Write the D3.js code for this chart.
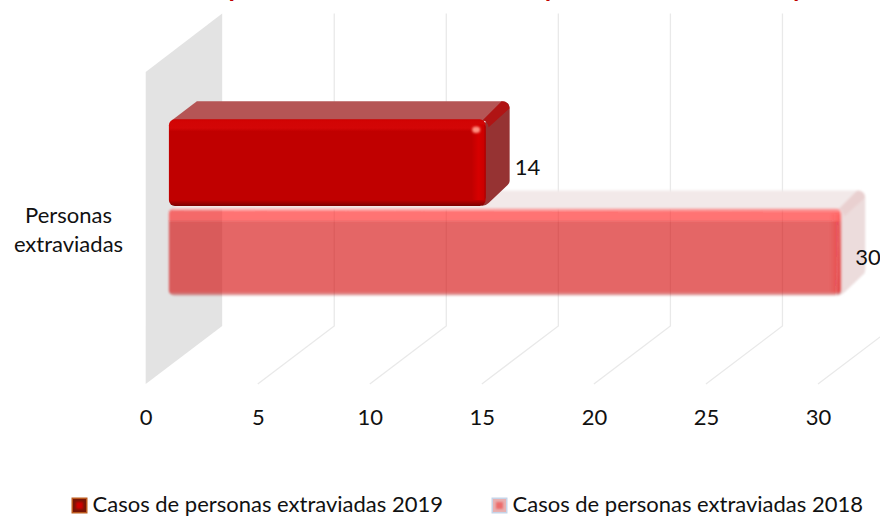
<!DOCTYPE html>
<html><head><meta charset="utf-8">
<script src="https://cdn.jsdelivr.net/npm/d3@7/dist/d3.min.js"></script>
<style>html,body{margin:0;padding:0;background:#fff;overflow:hidden}svg{display:block}text{font-family:Lato,Carlito,sans-serif;fill:#111}</style>
</head><body><div id="c"></div>
<script>
const titleText = "Casos de personas extraviadas 2018 y 2019 de enero a mayo";
const categories = ["Personas", "extraviadas"];
const seriesNames = ["Casos de personas extraviadas 2019", "Casos de personas extraviadas 2018"];
const seriesValues = [14, 30];
const tickValues = [0, 5, 10, 15, 20, 25, 30];

const W = 880, H = 516, FS = 22;
const svg = d3.select("#c").append("svg").attr("width", W).attr("height", H);
const defs = svg.append("defs");
function lin(id, vertical, stops){
  const g = defs.append("linearGradient").attr("id", id)
    .attr("x1",0).attr("y1",0).attr("x2",vertical?0:1).attr("y2",vertical?1:0);
  stops.forEach(s=>g.append("stop").attr("offset",s[0]).attr("stop-color",s[1]).attr("stop-opacity",s[2]===undefined?1:s[2]));
}
lin("face19", true, [[0,"#cc0000"],[.02,"#d20404"],[.10,"#d30606"],[.14,"#c00000"],[.93,"#c00000"],[.97,"#980000"],[1,"#7a0000"]]);
lin("edge19", false, [[0,"#d80000",0],[.5,"#d60000",1],[.85,"#cc0000",1],[1,"#a80000",1]]);
lin("face18", true, [[0,"#ff2a2a",.35],[.03,"#ff2020",.62],[.13,"#ff2020",.62],[.16,"#d20002",.6],[.96,"#d20002",.6],[1,"#a00000",.3]]);
lin("edge18", false, [[0,"#ff2020",0],[.6,"#ff2020",.18],[1,"#ff2020",.25]]);
const blur = defs.append("filter").attr("id","soft").attr("x","-2%").attr("y","-5%").attr("width","104%").attr("height","110%");
blur.append("feGaussianBlur").attr("stdDeviation",0.8);
const glow = defs.append("filter").attr("id","glow").attr("x","-50%").attr("y","-50%").attr("width","200%").attr("height","200%");
glow.append("feGaussianBlur").attr("stdDeviation",1);

// 3D projection: front floor edge and back wall offset
const x = d3.scaleLinear().domain([0,30]).range([145.7,818]);
const wallDX = 76.5, wallDY = 58, floorY = 384, ceilY = 72;
const barInset = 23.2, barDX = 24, barDY = 18;
const y = d3.scaleBand().domain(seriesNames).range([119,296]);
const barBevel = [3, 0];

// grid lines
const grid = svg.append("g").attr("fill","none").attr("stroke","#e9e9e9").attr("stroke-width",1.3);
grid.selectAll("path").data(tickValues.slice(1)).join("path")
  .attr("d", d=>`M${x(d)},${floorY}L${x(d)+wallDX},${floorY-wallDY}L${x(d)+wallDX},${ceilY-wallDY-0.5}`);
// wall
svg.append("path").attr("fill","#e3e3e3")
  .attr("d",`M${x(0)},${ceilY}L${x(0)+wallDX},${ceilY-wallDY-0.5}L${x(0)+wallDX},${floorY-wallDY}L${x(0)},${floorY}Z`);

function bar(i){
  const v = seriesValues[i], name = seriesNames[i];
  const x0 = x(0)+barInset, x1 = x(v)+barInset+barBevel[i];
  const y0 = y(name)+(i?1:0.3), y1 = y(name)+y.bandwidth()-(i?0.5:1.5);
  const is19 = i===0;
  const g = svg.append("g").attr("filter", is19?null:"url(#soft)");
  // top face
  g.append("path").attr("fill", is19?"#b55555":"#f2e9e9")
    .attr("d",`M${x0+3},${y0+1}L${x0+barDX+4},${y0-barDY}L${x1+barDX-6},${y0-barDY}Q${x1+barDX-2},${y0-barDY} ${x1+barDX-4},${y0-barDY+4}L${x1-2},${y0+2}Z`);
  // side face
  g.append("path").attr("fill", is19?"#963333":"#ecdcdc")
    .attr("d",`M${x1-1},${y0+4}L${x1+barDX-6},${y0-barDY+1}Q${x1+barDX},${y0-barDY} ${x1+barDX},${y0-barDY+8}L${x1+barDX},${y1-barDY-7}Q${x1+barDX},${y1-barDY-5} ${x1+barDX-2},${y1-barDY-3}L${x1+3},${y1-3}Q${x1},${y1} ${x1-4},${y1}Z`);
  // bevel between top and side
  g.append("path").attr("fill", is19?"#b01414":"#e9d0d0")
    .attr("d",`M${x1-3},${y0+1}L${x1+barDX-8},${y0-barDY}Q${x1+barDX-1},${y0-barDY} ${x1+barDX},${y0-barDY+7}L${x1+3},${y0+8}Q${x1+2},${y0+2} ${x1-3},${y0+1}Z`);
  // front face
  g.append("rect").attr("x",x0).attr("y",y0).attr("width",x1-x0).attr("height",y1-y0).attr("rx",is19?6:5)
    .attr("fill",`url(#face${is19?19:18})`);
  g.append("rect").attr("x",x1-(is19?14:12)).attr("y",y0+5).attr("width",is19?14:12).attr("height",y1-y0-(is19?11:8)).attr("rx",3)
    .attr("fill",`url(#edge${is19?19:18})`);
  if(is19){
    g.append("ellipse").attr("cx",x1-9.5).attr("cy",y0+10.5).attr("rx",4).attr("ry",3.2).attr("fill","#ff9080").attr("filter","url(#glow)");
  }
  // data label
  svg.append("text").attr("x",is19?x1+barDX+5:x1+barDX-10).attr("y",(y0+y1)/2).attr("dy",is19?12:13)
    .attr("font-size",FS).text(v);
}
// 2018 goes behind 2019
bar(1); bar(0);

// axis labels
const axis = d3.axisBottom(x).tickValues(tickValues).tickSize(0).tickPadding(0).tickFormat(d3.format("d"));
const ax = svg.append("g").attr("transform","translate(0,424.5)").call(axis);
ax.select(".domain").remove();
ax.selectAll("text").attr("font-size",FS).attr("dy",0).attr("y",0).style("font-family","Lato,sans-serif").style("fill","#111");

// category label
svg.append("g").selectAll("text").data(categories).join("text")
  .attr("x",68.5).attr("y",(d,i)=>222.5+i*29).attr("text-anchor","middle").attr("font-size",FS).text(d=>d);

// title (runs off the top edge)
svg.append("text").attr("x",119).attr("y",-3).attr("font-size",26).attr("font-weight",700)
  .style("fill","#c00000").text(titleText);

// legend
const legX = [71.5, 491.5], legT = [92.5, 512.5];
const swOuter = ["#bb5a1e","#c6d4e8"], swMid = ["#781505","#e8b0b0"], swCore = ["#d00000","#ec6c6c"];
const leg = svg.append("g").selectAll("g").data(seriesNames).join("g");
leg.append("rect").attr("x",(d,i)=>legX[i]).attr("y",497.5).attr("width",16).attr("height",16).attr("fill",(d,i)=>swOuter[i]);
leg.append("rect").attr("x",(d,i)=>legX[i]+1.5).attr("y",499).attr("width",13).attr("height",13).attr("fill",(d,i)=>swMid[i]);
leg.append("rect").attr("x",(d,i)=>legX[i]+4.5).attr("y",502).attr("width",7).attr("height",7).attr("fill",(d,i)=>swCore[i]).attr("filter","url(#glow)");
leg.append("text").attr("x",(d,i)=>legT[i]).attr("y",512).attr("font-size",FS).text(d=>d);
</script></body></html>
